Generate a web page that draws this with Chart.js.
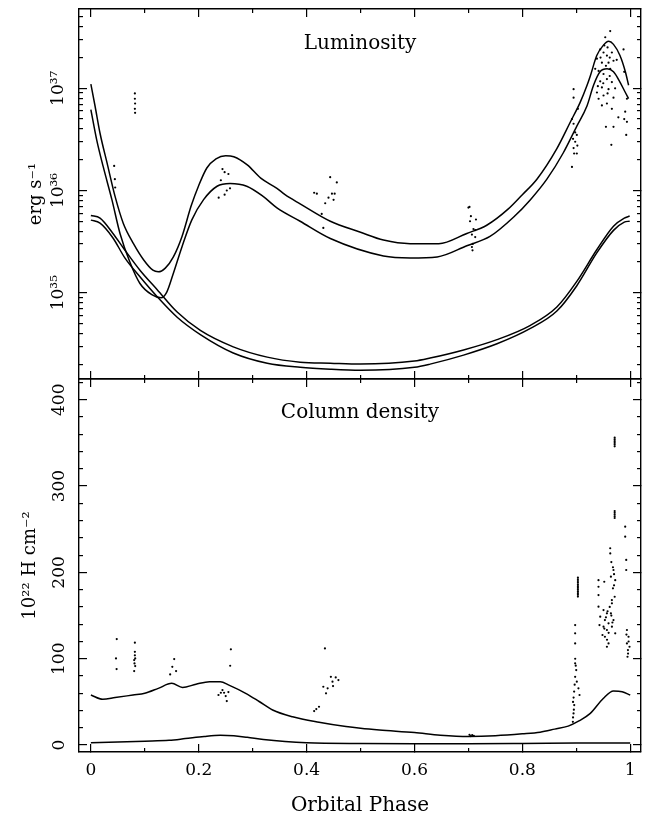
<!DOCTYPE html>
<html><head><meta charset="utf-8">
<script src="https://cdn.jsdelivr.net/npm/chart.js@4"></script>
<style>
html,body{margin:0;padding:0;background:#fff;}
#wrap{position:relative;width:645px;height:820px;overflow:hidden;background:#fff;}
#cA{position:absolute;left:0;top:0;width:645px;height:400px;}
#cB{position:absolute;left:0;top:370px;width:645px;height:450px;}
</style></head><body>
<div id="wrap"><canvas id="cA" width="645" height="400"></canvas><canvas id="cB" width="645" height="450"></canvas></div>
<script>
// ---------------- DATA ----------------
const xAxisTitle = 'Orbital Phase';
const lumTitle = 'Luminosity';
const colTitle = 'Column density';
const lumAxisTitle = 'erg s\u207B\u00B9';
const colAxisTitle = '10\u00B2\u00B2 H cm\u207B\u00B2';

const xTickValues = [0, 0.2, 0.4, 0.6, 0.8, 1];
const xTickLabels = ['0', '0.2', '0.4', '0.6', '0.8', '1'];
const xMinorTicks = [0.1, 0.3, 0.5, 0.7, 0.9];

const lumTickValues = [1e35, 1e36, 1e37];
const lumTickLabels = ['10\u00B3\u2075', '10\u00B3\u2076', '10\u00B3\u2077'];
const lumMinorTicks = [2e34,3e34,4e34,5e34,6e34,7e34,8e34,9e34,2e35,3e35,4e35,5e35,6e35,7e35,8e35,9e35,2e36,3e36,4e36,5e36,6e36,7e36,8e36,9e36,2e37,3e37,4e37,5e37];

const colTickValues = [0, 100, 200, 300, 400];
const colTickLabels = ['0', '100', '200', '300', '400'];
const colMinorTicks = [20,40,60,80,120,140,160,180,220,240,260,280,320,340,360,380,420];

// Luminosity model curves (erg/s)
const phaseHighA = [0.000,0.008,0.017,0.030,0.045,0.060,0.079,0.098,0.115,0.125,0.138,0.153,0.169,0.186,0.200,0.215,0.232,0.250,0.265,0.290,0.315,0.345,0.360,0.388,0.444,0.500,0.5425,0.592,0.645,0.697,0.734,0.774,0.800,0.827,0.864,0.889,0.907,0.920,0.926,0.938,0.950,0.960,0.969,0.981,0.991,0.997];
const lumHighA = [1.10e37,6.6e36,3.63e36,1.86e36,8.7e35,4.79e35,3.02e35,2.09e35,1.66e35,1.60e35,1.74e35,2.24e35,3.55e35,7.08e35,1.12e36,1.66e36,2.04e36,2.19e36,2.14e36,1.78e36,1.32e36,1.05e36,9.1e35,7.4e35,5.0e35,3.9e35,3.27e35,3.02e35,3.02e35,3.8e35,4.57e35,6.6e35,9.1e35,1.29e36,2.57e36,4.68e36,7.24e36,1.07e37,1.32e37,2.09e37,2.63e37,2.88e37,2.69e37,2.09e37,1.45e37,1.07e37];

const phaseHighB = [0.000,0.011,0.023,0.039,0.054,0.073,0.091,0.113,0.130,0.141,0.153,0.169,0.187,0.209,0.234,0.258,0.289,0.320,0.345,0.388,0.444,0.5425,0.592,0.642,0.697,0.740,0.784,0.815,0.8455,0.876,0.901,0.920,0.932,0.944,0.957,0.969,0.981,0.991,0.997];
const lumHighB = [6.17e36,3.09e36,1.70e36,8.13e35,3.80e35,1.95e35,1.23e35,9.55e34,8.9e34,1.02e35,1.55e35,2.82e35,5.13e35,8.13e35,1.10e36,1.17e36,1.10e36,8.7e35,6.76e35,5.0e35,3.39e35,2.29e35,2.19e35,2.24e35,2.88e35,3.55e35,5.5e35,8.13e35,1.29e36,2.34e36,4.27e36,6.76e36,1.07e37,1.45e37,1.55e37,1.45e37,1.15e37,9.1e36,7.94e36];

const phaseLowC = [0.000,0.017,0.041,0.060,0.091,0.123,0.160,0.203,0.264,0.327,0.388,0.444,0.500,0.600,0.629,0.691,0.753,0.815,0.864,0.901,0.938,0.969,0.989,0.999];
const lumLowC = [5.69e35,5.37e35,3.80e35,2.75e35,1.66e35,1.07e35,6.46e34,4.27e34,2.95e34,2.34e34,2.09e34,2.04e34,2.0e34,2.14e34,2.29e34,2.75e34,3.47e34,4.79e34,7.24e34,1.29e35,2.63e35,4.47e35,5.37e35,5.62e35];

const phaseLowD = [0.000,0.017,0.041,0.063,0.091,0.123,0.160,0.203,0.264,0.327,0.388,0.444,0.500,0.600,0.629,0.691,0.753,0.815,0.864,0.901,0.938,0.969,0.989,0.999];
const lumLowD = [5.13e35,4.79e35,3.43e35,2.19e35,1.43e35,9.12e34,5.75e34,3.89e34,2.57e34,2.04e34,1.86e34,1.78e34,1.74e34,1.86e34,2.0e34,2.45e34,3.16e34,4.47e34,6.61e34,1.17e35,2.45e35,4.07e35,4.90e35,5.01e35];

// Luminosity measurements [phase, erg/s]
const lumDots = [
 [0.0816,8.9e36],[0.0816,7.9e36],[0.0820,7.1e36],[0.0816,6.3e36],[0.0820,5.75e36],
 [0.0432,1.74e36],[0.0445,1.29e36],[0.0451,1.07e36],
 [0.244,1.62e36],[0.248,1.51e36],[0.255,1.45e36],[0.241,1.26e36],[0.258,1.05e36],[0.252,1.0e36],[0.248,9.1e35],[0.237,8.5e35],
 [0.4437,1.35e36],[0.456,1.20e36],[0.414,9.5e35],[0.419,9.3e35],[0.447,9.3e35],[0.452,9.3e35],[0.4406,8.5e35],[0.450,8.1e35],[0.4345,7.5e35],[0.428,5.9e35],[0.431,4.3e35],
 [0.702,6.9e35],[0.700,6.8e35],[0.7046,5.6e35],[0.714,5.2e35],[0.703,5.0e35],[0.7094,4.2e35],[0.7126,4.1e35],[0.7065,3.7e35],[0.7126,3.5e35],[0.708,3.0e35],[0.7065,2.8e35],[0.7076,2.6e35],
 [0.895,9.8e36],[0.895,8.1e36],[0.903,6.3e36],[0.892,5.0e36],[0.895,4.5e36],[0.898,3.7e36],[0.901,3.5e36],[0.894,3.2e36],[0.898,3.0e36],[0.902,2.75e36],[0.895,2.6e36],[0.901,2.3e36],[0.896,2.3e36],[0.892,1.7e36],
 [0.9537,3.16e37],[0.9629,3.63e37],[0.9444,2.40e37],[0.9505,2.24e37],[0.9568,2.09e37],[0.966,2.24e37],[0.9383,1.95e37],[0.9475,1.78e37],[0.9598,1.78e37],[0.969,1.86e37],[0.9629,1.55e37],[0.9414,1.48e37],[0.9351,1.55e37],[0.9505,1.38e37],[0.9568,1.23e37],[0.9444,1.17e37],[0.966,1.15e37],[0.9475,1.02e37],[0.9598,9.8e36],[0.9383,9.1e36],[0.9505,8.5e36],[0.969,8.1e36],[0.9414,7.9e36],[0.9568,7.1e36],[0.9475,6.8e36],[0.966,6.3e36],
 [0.9876,2.40e37],[0.9889,1.45e37],[0.9939,7.9e36],[0.9907,5.9e36],[0.9939,4.7e36],[0.9926,3.5e36],[0.969,4.2e36],[0.9889,5.0e36],
 [0.952,2.63e37],[0.958,2.51e37],[0.945,2.0e37],[0.962,2.0e37],[0.955,1.66e37],[0.950,1.12e37],[0.962,1.32e37],[0.940,1.05e37],[0.958,8.9e36],[0.975,1.9e37],[0.972,1.0e37],[0.978,5.2e36],[0.955,4.2e36],[0.965,2.8e36]
];

// Column density model curves (1e22 H/cm^2)
const phaseColHigh = [0.000,0.022,0.045,0.078,0.100,0.125,0.150,0.170,0.195,0.220,0.240,0.256,0.287,0.312,0.337,0.374,0.423,0.473,0.500,0.535,0.600,0.648,0.700,0.750,0.800,0.833,0.860,0.885,0.905,0.926,0.950,0.969,0.985,1.000];
const colHigh = [58,53,55,58,60,65.7,71.5,66.8,70.5,73.4,73.4,69.5,60,50.5,40.6,32.8,26.5,21.5,19.5,17.5,14.5,11.5,10,10.8,13,15,18.5,22,28,36.7,54,62.6,61.8,58];

const phaseColLow = [0.000,0.100,0.145,0.175,0.210,0.240,0.265,0.290,0.320,0.360,0.400,0.500,0.600,0.700,0.800,0.900,1.000];
const colLow = [2.7,4.5,5.5,7.5,10,11.3,10.8,9,6.5,4.2,2.8,1.8,1.5,1.5,1.8,2.3,2.5];

// Column density measurements [phase, 1e22 H/cm^2]
const colDots = [
 [0.048,122.8],[0.0466,100.4],[0.0477,88],
 [0.0816,118.6],[0.0816,108],[0.0816,104],[0.0822,100.4],[0.0803,98.5],[0.0809,94.6],[0.0822,91.5],[0.0803,85.7],
 [0.1545,99.6],[0.151,90.7],[0.158,85.7],[0.147,81.9],
 [0.2596,110.9],[0.2583,91.9],
 [0.2366,58],[0.241,60.6],[0.244,63.7],[0.247,60.6],[0.250,56.8],[0.255,61.4],[0.252,51],
 [0.434,112],[0.414,39.4],[0.418,41.7],[0.423,44.4],[0.431,67.6],[0.439,65.7],[0.436,59.9],[0.445,79.1],[0.449,68.4],[0.454,78.4],[0.459,75.3],[0.448,73.4],
 [0.704,10.4],[0.707,11.5],[0.710,10.8],[0.702,12],
 [0.8979,139],[0.8979,129.4],[0.8979,117.8],[0.8979,94.7],[0.8999,86.9],[0.8979,79.1],[0.901,73.4],[0.904,65.7],[0.906,58],[0.8962,46.3],[0.8949,36.7],[0.8937,27],
 [0.898,100],[0.899,92],[0.897,70],[0.896,62],[0.895,55],[0.894,50],[0.8955,41],[0.894,32],
 [0.903,172],[0.903,174],[0.903,176],[0.903,178],[0.903,180],[0.903,182],[0.903,184],[0.903,186],[0.903,188],[0.903,190],[0.903,192],[0.903,194],
 [0.9712,346],[0.9712,348],[0.9712,350],[0.9712,352],[0.9712,354],[0.9712,356],
 [0.9712,263],[0.9712,265],[0.9712,267],[0.9712,269],[0.9712,271],
 [0.9412,191],[0.9412,183.4],[0.9412,173.8],[0.9519,189.2],[0.9629,228],[0.9642,195],[0.969,202.8],[0.9722,191],[0.968,181.6],[0.9712,171.8],[0.9661,164.2],[0.9412,160.3],[0.9505,156.4],[0.9568,152.6],[0.9642,152.6],[0.9531,144.8],[0.9598,141],[0.9505,137.1],[0.9568,133.3],[0.9661,137.1],[0.969,144.8],[0.9444,148.7],[0.9531,125.5],[0.9598,117.8],[0.9568,113.9],[0.9486,127.5],[0.9722,129.4],[0.943,139],
 [0.955,148],[0.958,155],[0.962,160],[0.965,150],[0.967,142],[0.952,135],[0.960,130],[0.957,122],[0.966,168],[0.970,185],[0.963,222],[0.965,212],[0.968,206],[0.970,198],
 [0.9907,253],[0.9907,241.4],[0.9926,214.4],[0.9926,202.8],[0.9939,133.3],[0.9969,125.5],[0.9939,117.8],[0.9958,110],[0.995,102.3],[0.9987,113.9],[0.993,128],[0.996,106],[0.997,120]
];

// ---------------- CHART ----------------
const FONT = "'DejaVu Serif', serif";
const xRange = [-0.022, 1.02];
const lumRange = [1.43e34, 5.97e37];
const colRange = [-8, 424];

function pts(xs, ys) { return xs.map((x, i) => ({ x: x, y: ys[i] })); }
function pairPts(a) { return a.map(p => ({ x: p[0], y: p[1] })); }

function measureWidest(labels, font) {
  const c = document.createElement('canvas').getContext('2d');
  c.font = font;
  return Math.max.apply(null, labels.map(l => c.measureText(l).width));
}

function axis(o) {
  const horiz = o.pos === 'top' || o.pos === 'bottom';
  const a = {
    type: o.type, position: o.pos, min: o.min, max: o.max, weight: o.weight,
    afterBuildTicks: function (s) { s.ticks = o.ticks.map(v => ({ value: v })); },
    afterFit: function (s) {
      if (horiz) s.height = o.size; else s.width = o.size;
      s.paddingTop = 0; s.paddingBottom = 0; s.paddingLeft = 0; s.paddingRight = 0;
    },
    grid: { display: true, drawOnChartArea: false, drawTicks: true, tickLength: -o.len,
            color: '#000', tickColor: '#000', lineWidth: 1.2, tickWidth: 1.2 },
    border: { display: !!o.border, color: '#000', width: 1.4 },
    ticks: { display: false },
    title: { display: false }
  };
  if (o.labels) {
    a.ticks = {
      display: true, autoSkip: false, color: '#000',
      font: { family: FONT, size: 17 },
      padding: o.padding,
      minRotation: o.rot || 0, maxRotation: o.rot || 0,
      crossAlign: o.crossAlign || 'near',
      callback: function (v) {
        for (let i = 0; i < o.labelValues.length; i++) {
          if (Math.abs(v - o.labelValues[i]) <= Math.abs(o.labelValues[i]) * 1e-6 + 1e-9) return o.labels[i];
        }
        return '';
      }
    };
  }
  if (o.title) a.title = o.title;
  return a;
}

const lineStyle = { showLine: true, borderColor: '#000', borderWidth: 1.5, pointRadius: 0, cubicInterpolationMode: 'monotone', fill: false };
const dotStyle = { showLine: false, pointRadius: 1.1, pointBorderWidth: 0, pointBackgroundColor: '#000', backgroundColor: '#000', borderColor: '#000' };

const panelTitle = {
  id: 'panelTitle',
  afterDraw(chart, args, opts) {
    const { ctx, chartArea } = chart;
    ctx.save();
    ctx.font = '20px ' + FONT;
    ctx.fillStyle = '#000';
    ctx.textAlign = 'center';
    ctx.textBaseline = 'middle';
    ctx.fillText(opts.text, (chartArea.left + chartArea.right) / 2, chartArea.top + opts.offset);
    ctx.restore();
  }
};

const tickFont = '17px ' + FONT;
const lumWidest = measureWidest(lumTickLabels, tickFont);
const colWidest = measureWidest(colTickLabels, tickFont);

function commonOpts() {
  return {
    responsive: false, animation: false, devicePixelRatio: 1,
    layout: { padding: 0, autoPadding: false },
    plugins: { legend: { display: false }, tooltip: { enabled: false } },
    events: []
  };
}

// Top panel: luminosity
const optsA = commonOpts();
optsA.plugins.panelTitle = { text: lumTitle, offset: 35 };
optsA.scales = {
  x: axis({ type: 'linear', pos: 'bottom', min: xRange[0], max: xRange[1], weight: 1, ticks: xTickValues, size: 21, len: 8, border: true }),
  xm: axis({ type: 'linear', pos: 'bottom', min: xRange[0], max: xRange[1], weight: 0, ticks: xMinorTicks, size: 0, len: 4 }),
  xt: axis({ type: 'linear', pos: 'top', min: xRange[0], max: xRange[1], weight: 1, ticks: xTickValues, size: 9, len: 8, border: true }),
  xtm: axis({ type: 'linear', pos: 'top', min: xRange[0], max: xRange[1], weight: 0, ticks: xMinorTicks, size: 0, len: 4 }),
  y: axis({ type: 'logarithmic', pos: 'left', min: lumRange[0], max: lumRange[1], weight: 1, ticks: lumTickValues, size: 79, len: 8, border: true,
            labels: lumTickLabels, labelValues: lumTickValues, rot: 90, crossAlign: 'center', padding: 28 - lumWidest / 2,
            title: { display: true, text: lumAxisTitle, color: '#000', font: { family: FONT, size: 18 }, padding: { top: 26, bottom: 0 } } }),
  ym: axis({ type: 'logarithmic', pos: 'left', min: lumRange[0], max: lumRange[1], weight: 0, ticks: lumMinorTicks, size: 0, len: 4 }),
  yr: axis({ type: 'logarithmic', pos: 'right', min: lumRange[0], max: lumRange[1], weight: 1, ticks: lumTickValues, size: 4, len: 8, border: true }),
  yrm: axis({ type: 'logarithmic', pos: 'right', min: lumRange[0], max: lumRange[1], weight: 0, ticks: lumMinorTicks, size: 0, len: 4 })
};

new Chart(document.getElementById('cA'), {
  type: 'scatter',
  data: {
    datasets: [
      Object.assign({ label: 'high A', data: pts(phaseHighA, lumHighA) }, lineStyle),
      Object.assign({ label: 'high B', data: pts(phaseHighB, lumHighB) }, lineStyle),
      Object.assign({ label: 'low C', data: pts(phaseLowC, lumLowC) }, lineStyle),
      Object.assign({ label: 'low D', data: pts(phaseLowD, lumLowD) }, lineStyle),
      Object.assign({ label: 'data', data: pairPts(lumDots) }, dotStyle)
    ]
  },
  options: optsA,
  plugins: [panelTitle]
});

// Bottom panel: column density
const optsB = commonOpts();
optsB.plugins.panelTitle = { text: colTitle, offset: 34 };
optsB.scales = {
  x: axis({ type: 'linear', pos: 'bottom', min: xRange[0], max: xRange[1], weight: 1, ticks: xTickValues, size: 68, len: 8, border: true,
            labels: xTickLabels, labelValues: xTickValues, padding: 16,
            title: { display: true, text: xAxisTitle, color: '#000', font: { family: FONT, size: 20 }, padding: { top: 0, bottom: 2 } } }),
  xm: axis({ type: 'linear', pos: 'bottom', min: xRange[0], max: xRange[1], weight: 0, ticks: xMinorTicks, size: 0, len: 4 }),
  xt: axis({ type: 'linear', pos: 'top', min: xRange[0], max: xRange[1], weight: 1, ticks: xTickValues, size: 9, len: 8, border: true }),
  xtm: axis({ type: 'linear', pos: 'top', min: xRange[0], max: xRange[1], weight: 0, ticks: xMinorTicks, size: 0, len: 4 }),
  y: axis({ type: 'linear', pos: 'left', min: colRange[0], max: colRange[1], weight: 1, ticks: colTickValues, size: 79, len: 8, border: true,
            labels: colTickLabels, labelValues: colTickValues, rot: 90, crossAlign: 'center', padding: 27 - colWidest / 2,
            title: { display: true, text: colAxisTitle, color: '#000', font: { family: FONT, size: 18 }, padding: { top: 20, bottom: 0 } } }),
  ym: axis({ type: 'linear', pos: 'left', min: colRange[0], max: colRange[1], weight: 0, ticks: colMinorTicks, size: 0, len: 4 }),
  yr: axis({ type: 'linear', pos: 'right', min: colRange[0], max: colRange[1], weight: 1, ticks: colTickValues, size: 4, len: 8, border: true }),
  yrm: axis({ type: 'linear', pos: 'right', min: colRange[0], max: colRange[1], weight: 0, ticks: colMinorTicks, size: 0, len: 4 })
};

new Chart(document.getElementById('cB'), {
  type: 'scatter',
  data: {
    datasets: [
      Object.assign({ label: 'NH model', data: pts(phaseColHigh, colHigh) }, lineStyle),
      Object.assign({ label: 'NH low', data: pts(phaseColLow, colLow) }, lineStyle),
      Object.assign({ label: 'NH data', data: pairPts(colDots) }, dotStyle)
    ]
  },
  options: optsB,
  plugins: [panelTitle]
});
</script>
</body></html>
